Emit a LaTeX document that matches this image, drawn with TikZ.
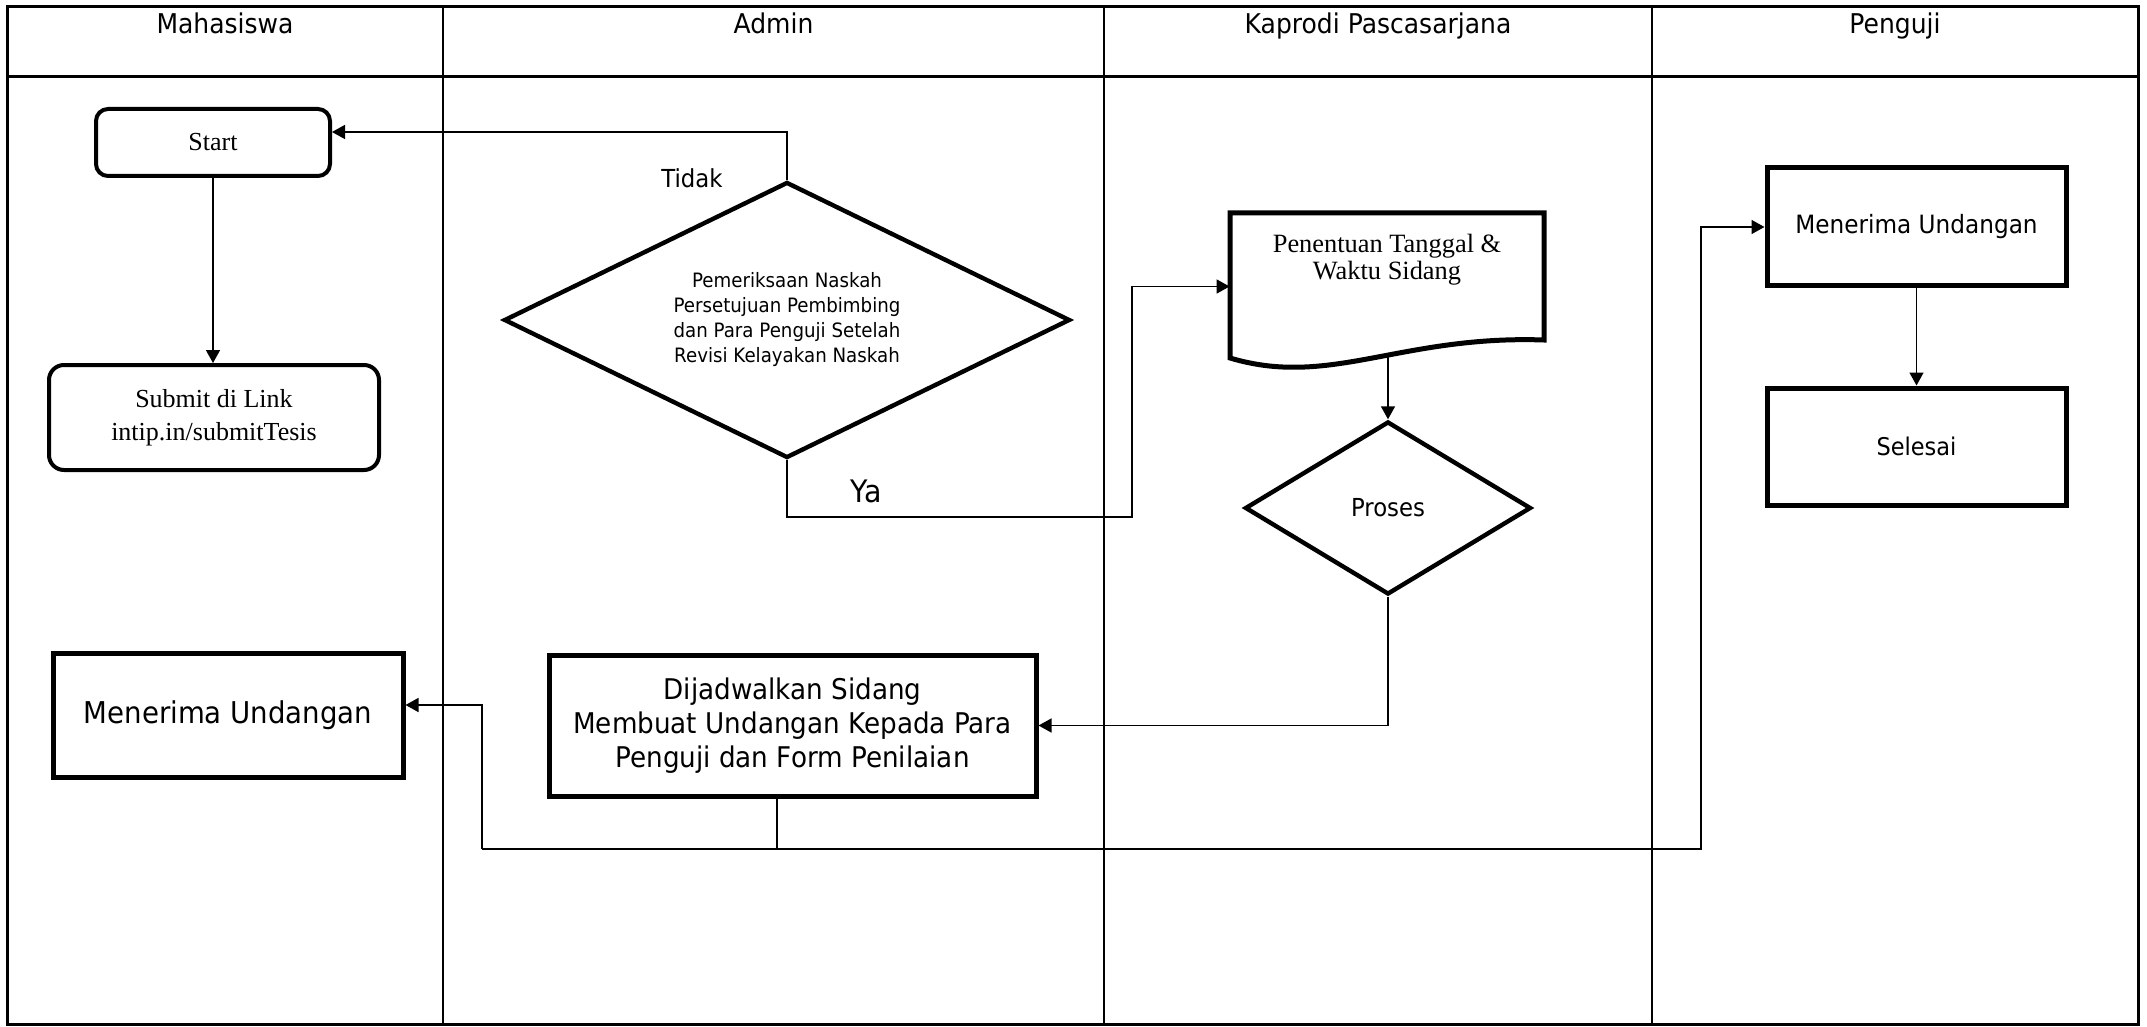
\documentclass[tikz,border=0pt]{standalone}
\usepackage{fontspec}
\setmainfont{Liberation Serif}
\newfontfamily\tah[FakeStretch=0.92]{DejaVu Sans}
\usetikzlibrary{shapes.geometric,arrows.meta}

\tikzset{
  frame/.style={line width=1.5pt},
  lane/.style={line width=1pt},
  conn/.style={line width=0.75pt},
  arr/.style={conn,-{Triangle[length=6.5pt,width=7pt]}},
  procbox/.style={draw,line width=2.5pt,rectangle,inner sep=0pt,align=center},
  roundbox/.style={draw,line width=2pt,rectangle,rounded corners=6pt,inner sep=0pt,align=center},
  decision/.style={draw,line width=2.2pt,diamond,inner sep=0pt,align=center},
  lanehead/.style={anchor=base,inner sep=0pt,font=\tah\fontsize{13.6pt}{16pt}\selectfont},
  sanslabel/.style={anchor=base,inner sep=0pt},
}

\begin{document}
\begin{tikzpicture}[x=0.5pt,y=-0.5pt]
\useasboundingbox (0,0) rectangle (2147,1027);

% swimlane frame
\draw[frame] (7,7) rectangle (2138,1024);
\draw[frame] (7,77) -- (2138,77);
\draw[lane] (443,7) -- (443,1024);
\draw[lane] (1104,7) -- (1104,1024);
\draw[lane] (1652,7) -- (1652,1024);

% lane titles
\node[lanehead] (hMhs) at (225,34) {Mahasiswa};
\node[lanehead] (hAdm) at (773.5,34) {Admin};
\node[lanehead] (hKap) at (1378,34) {Kaprodi Pascasarjana};
\node[lanehead] (hPgj) at (1895,34) {Penguji};

% Mahasiswa lane
\node[roundbox,minimum width=117pt,minimum height=33.5pt,
      font=\fontsize{13pt}{16pt}\selectfont] (start) at (213,142.5) {Start};
\node[roundbox,rounded corners=7.5pt,minimum width=165pt,minimum height=52.5pt,
      font=\fontsize{13pt}{16.5pt}\selectfont] (submit) at (214,417.5)
      {Submit di Link\\intip.in/submitTesis};
\node[procbox,minimum width=175pt,minimum height=62pt,
      font=\tah\fontsize{15pt}{18pt}\selectfont] (recvM) at (228,715) {Menerima Undangan};

% Admin lane
\node[decision,aspect=2,minimum width=283pt,minimum height=138pt,
      font=\tah\fontsize{9.9pt}{12.5pt}\selectfont] (check) at (787,320)
      {Pemeriksaan Naskah\\Persetujuan Pembimbing\\dan Para Penguji Setelah\\Revisi Kelayakan Naskah};
\node[procbox,minimum width=243.5pt,minimum height=70.5pt,
      font=\tah\fontsize{14.25pt}{17pt}\selectfont] (sched) at (792.5,725.5)
      {Dijadwalkan Sidang\\Membuat Undangan Kepada Para\\Penguji dan Form Penilaian};
\node[sanslabel,font=\tah\fontsize{12.4pt}{15pt}\selectfont] (tidak) at (692,188) {Tidak};
\node[sanslabel,font=\tah\fontsize{15.5pt}{18pt}\selectfont] (ya) at (866,502) {Ya};

% Kaprodi lane: document shape with wavy bottom
\node[rectangle,inner sep=0pt,minimum width=157pt,minimum height=73.5pt] (doc) at (1387,286.5) {};
\draw[line width=2.5pt] (1230,213) -- (1544,213) -- (1544,340)
   .. controls (1400,335) and (1330,388) .. (1230,358) -- cycle;
\node[align=center,inner sep=0pt,font=\fontsize{13.2pt}{13.5pt}\selectfont] (doctext) at (1387,260)
   {Penentuan Tanggal \&\\Waktu Sidang};
\coordinate (docbot) at (1388,357);
\node[decision,aspect=1.65,minimum width=143pt,minimum height=86.5pt,
      font=\tah\fontsize{12.4pt}{15pt}\selectfont] (proses) at (1388,508) {Proses};

% Penguji lane
\node[procbox,minimum width=149.5pt,minimum height=59pt,
      font=\tah\fontsize{12.6pt}{15pt}\selectfont] (recvP) at (1916.5,227) {Menerima Undangan};
\node[procbox,minimum width=149.5pt,minimum height=58.5pt,
      font=\tah\fontsize{12.2pt}{15pt}\selectfont] (done) at (1916.5,446.5) {Selesai};

% routing points
\coordinate (yaturn) at (1132,517);
\coordinate (split) at (777,849);
\coordinate (leftup) at (482,849);
\coordinate (rightup) at (1701,849);

% connectors
\draw[arr] (start.south) -- (start.south |- submit.north);
\draw[arr] (check.north) |- ([yshift=5.25pt]start.east);
\draw[arr] (check.south) |- (yaturn) |- (doc.west);
\draw[arr] (docbot) -- (proses.north);
\draw[arr] (proses.south) |- (sched.east);
\draw[conn] ([xshift=-7.75pt]sched.south) -- (split) -- (leftup);
\draw[arr] (leftup) |- ([yshift=5pt]recvM.east);
\draw[arr] (split) -- (rightup) |- (recvP.west);
\draw[arr] (recvP.south) -- (done.north);
\end{tikzpicture}
\end{document}
